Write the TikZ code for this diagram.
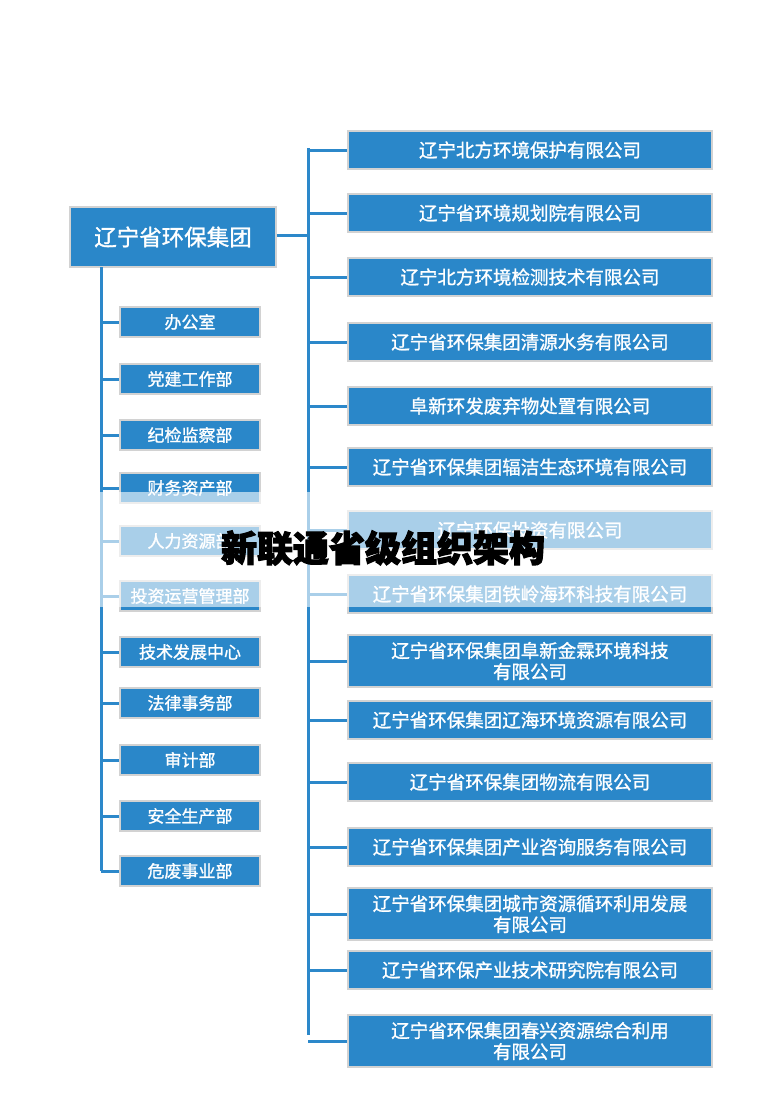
\documentclass[tikz,border=0pt]{standalone}
\usepackage{fontspec}
\newfontfamily\cjk[FakeBold=1.2]{Noto Sans CJK SC}
\newfontfamily\cjkt[FakeBold=3]{Noto Sans CJK SC}
\tikzset{
 ln/.style={draw=lblue,line width=3pt},
 bx/.style={draw=gray!35,line width=1.5pt,fill=bblue,text=white,font=\cjk\fontsize{18.5}{21}\selectfont,inner sep=0pt,align=center},
 rb/.style={bx,minimum width=364pt,minimum height=38pt},
 rb2/.style={bx,minimum width=364pt,minimum height=52pt},
 lb/.style={bx,minimum width=140pt,minimum height=30pt,font=\cjk\fontsize{17}{19}\selectfont},
}
\definecolor{bblue}{HTML}{2A87C9}
\definecolor{lblue}{HTML}{2C88CA}
\begin{document}
\begin{tikzpicture}[x=1pt,y=-1pt]
\useasboundingbox (0,0) rectangle (763,1100);
\node[bx,minimum width=206pt,minimum height=60pt,font=\cjk\fontsize{22.5}{26}\selectfont] (root) at (173,237) {辽宁省环保集团};
\coordinate (rt) at (308,148);
\coordinate (rb) at (308,1035);
\coordinate (lt) at (101,267);
\coordinate (lbot) at (101,871);
\coordinate (rj) at (308,235);
\draw[ln] (rt) -- (rb);
\draw[ln] (lt) -- (lbot);
\draw[ln] (root.east |- rj) -- (rj);
\foreach \n/\y/\t/\s in {r1/150/辽宁北方环境保护有限公司/rb, r2/213/辽宁省环境规划院有限公司/rb, r3/277/辽宁北方环境检测技术有限公司/rb, r4/342/辽宁省环保集团清源水务有限公司/rb, r5/406/阜新环发废弃物处置有限公司/rb, r6/467/辽宁省环保集团辐洁生态环境有限公司/rb, r7/530/辽宁环保投资有限公司/rb, r8/594/辽宁省环保集团铁岭海环科技有限公司/rb, r9/661/{辽宁省环保集团阜新金霖环境科技\\有限公司}/rb2, r10/720/辽宁省环保集团辽海环境资源有限公司/rb, r11/782/辽宁省环保集团物流有限公司/rb, r12/847/辽宁省环保集团产业咨询服务有限公司/rb, r13/914/{辽宁省环保集团城市资源循环利用发展\\有限公司}/rb2, r14/970/辽宁省环保产业技术研究院有限公司/rb, r15/1041/{辽宁省环保集团春兴资源综合利用\\有限公司}/rb2}{
 \node[\s] (\n) at (530,\y) {\t};
 \draw[ln] (308,\y) -- (\n.west);
}
\foreach \n/\y/\t in {l1/322/办公室, l2/379/党建工作部, l3/435/纪检监察部, l4/488/财务资产部, l5/541/人力资源部, l6/596/投资运营管理部, l7/652/技术发展中心, l8/703/法律事务部, l9/760/审计部, l10/816/安全生产部, l11/871/危废事业部}{
 \node[lb] (\n) at (190,\y) {\t};
 \draw[ln] (101,\y) -- (\n.west);
}
\fill[white,opacity=0.6] (0,492) rectangle (763,607);
\node[font=\cjkt\bfseries\fontsize{36}{40}\selectfont] (title) at (383,548) {新联通省级组织架构};
\end{tikzpicture}
\end{document}
